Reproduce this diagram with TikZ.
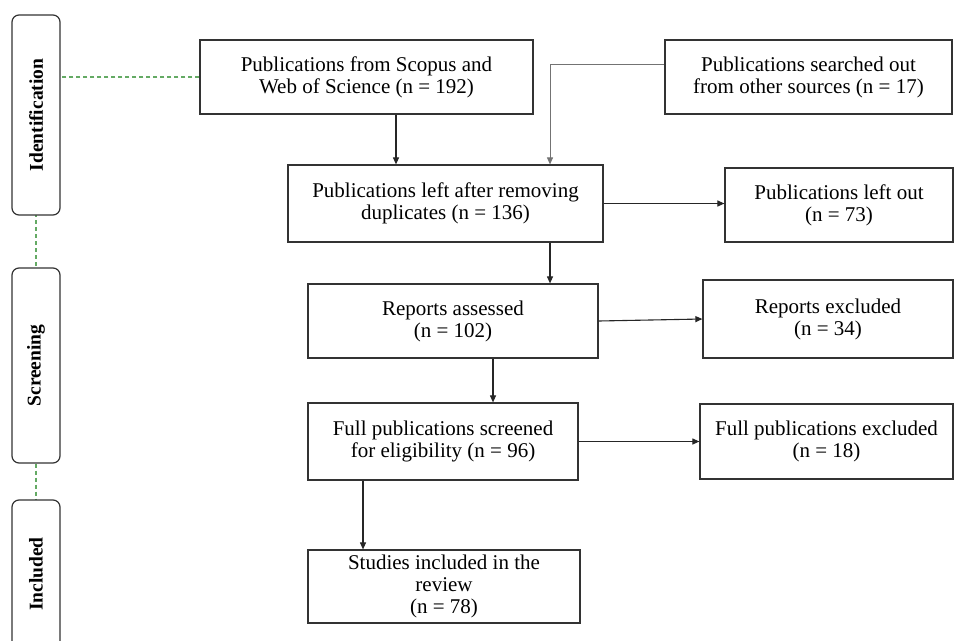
\documentclass[tikz,border=0pt]{standalone}
\usepackage{fontspec}
\setmainfont{Liberation Serif}
\usetikzlibrary{arrows.meta,backgrounds}
\definecolor{gdashc}{RGB}{100,170,100}
\begin{document}
\begin{tikzpicture}[x=1pt,y=-1pt,
  box/.style={draw=black!80, line width=1.2pt, fill=white, align=center, inner sep=0pt,
    font=\fontsize{21}{22}\selectfont},
  phase/.style={draw=black!80, line width=1.2pt, rounded corners=7pt, fill=white, inner sep=0pt,
    rotate=90, minimum height=48pt, font=\bfseries\fontsize{19.5}{21}\selectfont},
  arr/.style={-{Triangle[length=7pt,width=6pt]}, line width=1.1pt, draw=black!85},
  garr/.style={-{Triangle[length=7pt,width=6pt]}, line width=0.9pt, draw=black!55},
  gdash/.style={draw=gdashc, dash pattern=on 4pt off 3pt, line width=1.1pt}]
\useasboundingbox (0,0) rectangle (955,640);
\clip (0,0) rectangle (955,640);

% phase boxes
\node[phase, minimum width=200pt] (ident) at (36,115) {Identification};
\node[phase, minimum width=195pt] (screen) at (36,365.5) {Screening};
\node[phase, minimum width=148pt] (incl) at (36,574) {Included};

% flow boxes
\node[box, minimum width=333pt, minimum height=74pt] (b1) at (366.5,77) {Publications from Scopus and\\Web of Science (n = 192)};
\node[box, minimum width=287pt, minimum height=74pt] (b3) at (808.5,77) {Publications searched out\\from other sources (n = 17)};
\node[box, minimum width=315pt, minimum height=77pt] (b2) at (445.5,203.5) {Publications left after removing\\duplicates (n = 136)};
\node[box, minimum width=228pt, minimum height=74pt] (b4) at (839,205) {Publications left out\\(n = 73)};
\node[box, minimum width=290pt, minimum height=74pt] (b5) at (453,321) {Reports assessed\\(n = 102)};
\node[box, minimum width=250pt, minimum height=78pt] (b6) at (828,319) {Reports excluded\\(n = 34)};
\node[box, minimum width=270pt, minimum height=77pt] (b7) at (443,441.5) {Full publications screened\\for eligibility (n = 96)};
\node[box, minimum width=253pt, minimum height=75pt] (b8) at (826.5,441.5) {Full publications excluded\\(n = 18)};
\node[box, minimum width=272pt, minimum height=73pt] (b9) at (444,586.5) {Studies included in the\\review\\(n = 78)};

% dashed phase connectors (behind the boxes)
\begin{scope}[on background layer]
  \fill[white] (0,0) rectangle (955,640);
  \draw[gdash] (b1.west) -- (b1.west -| ident.center);
  \draw[gdash] (ident.center) -- (screen.center);
  \draw[gdash] (screen.center) -- (incl.center);
\end{scope}

% arrows
\coordinate (c2n) at ([xshift=104.5pt]b2.north);
\coordinate (c2s) at ([xshift=104.5pt]b2.south);
\coordinate (c1s) at ([xshift=29.5pt]b1.south);
\coordinate (c5s) at ([xshift=40pt]b5.south);
\coordinate (c7s) at ([xshift=-80pt]b7.south);
\coordinate (c3w) at ([yshift=13pt]b3.west);

\draw[arr] (c1s) -- (c1s |- b2.north);
\draw[garr] (c3w) -| (c2n);
\draw[arr] (b2.east) -- (b2.east -| b4.west);
\draw[arr] (c2s) -- (c2s |- b5.north);
\draw[arr] (b5.east) -- (b6.west);
\draw[arr] (c5s) -- (c5s |- b7.north);
\draw[arr] (b7.east) -- (b8.west);
\draw[arr] (c7s) -- (c7s |- b9.north);
\end{tikzpicture}
\end{document}
